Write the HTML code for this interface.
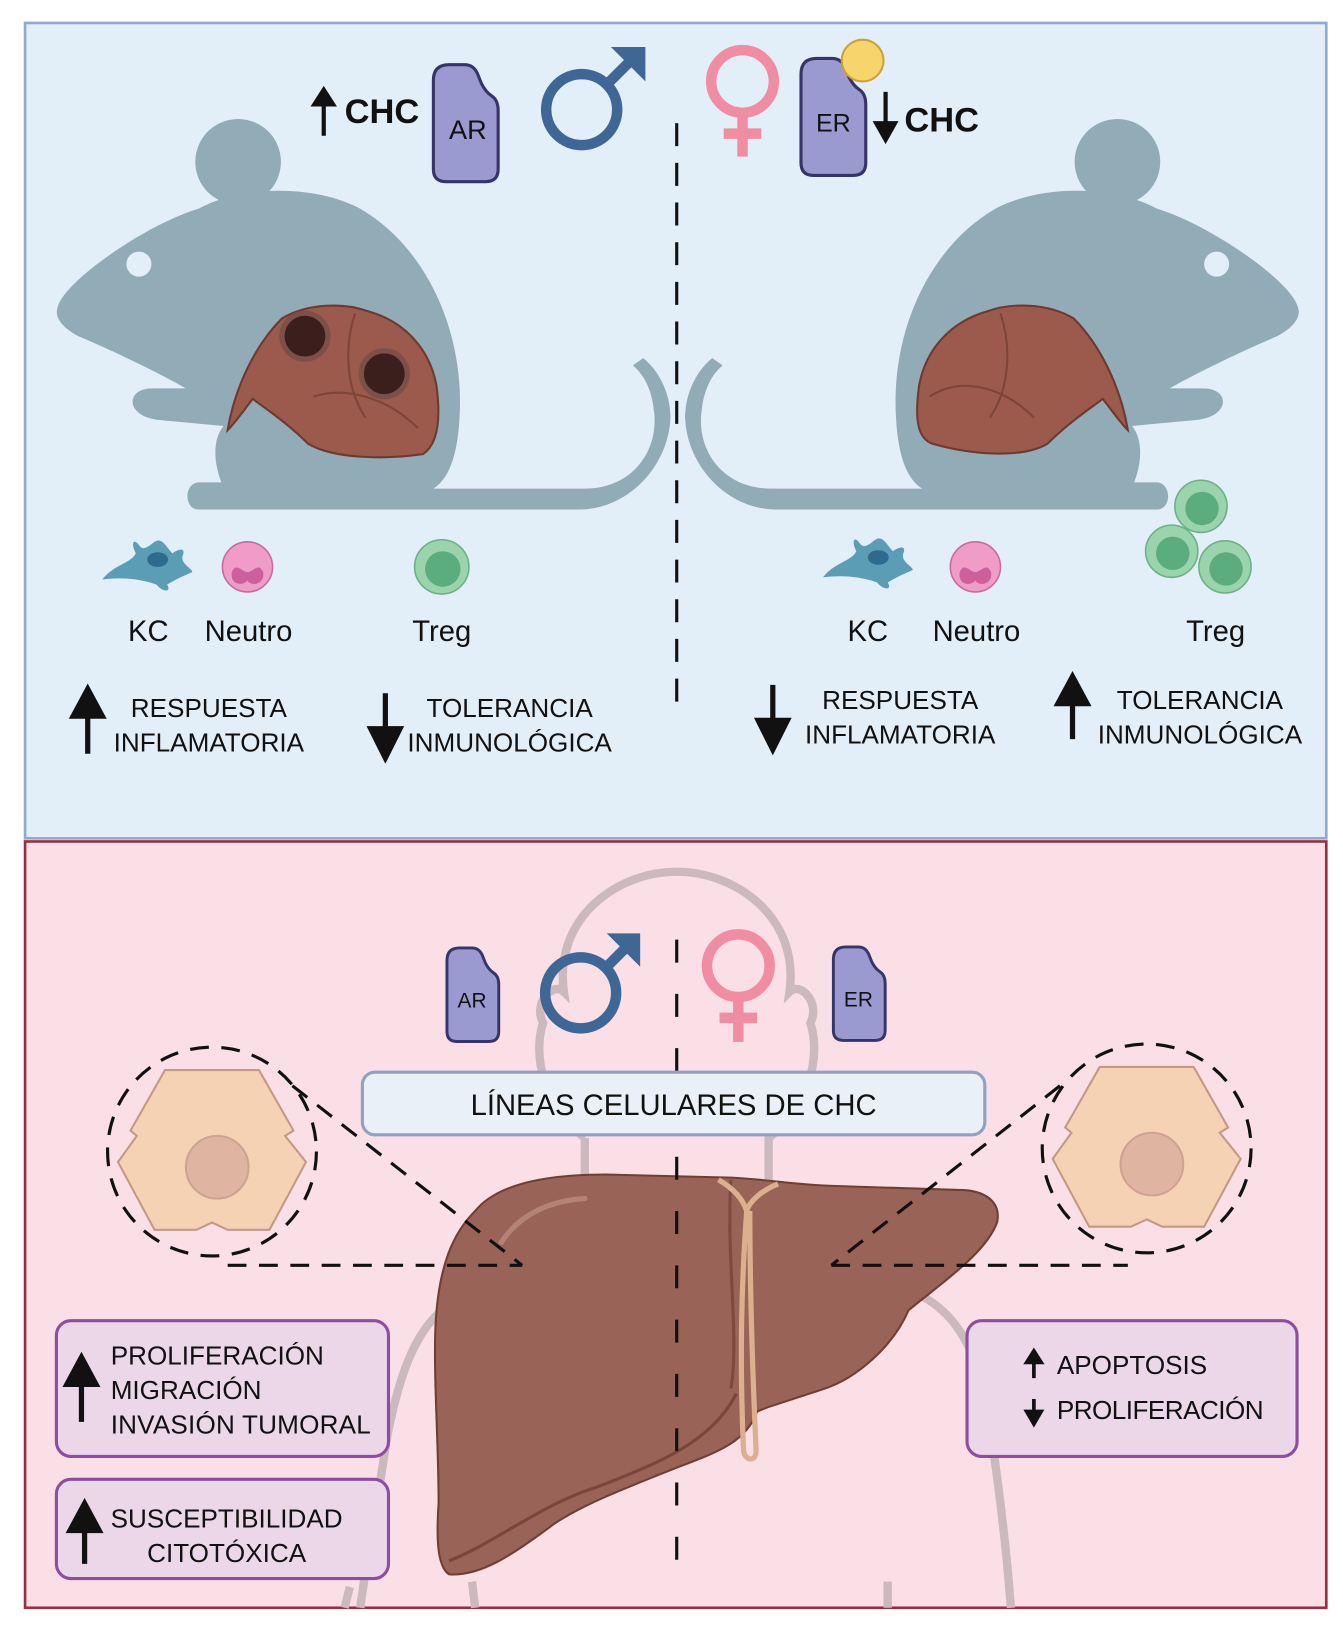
<!DOCTYPE html>
<html><head><meta charset="utf-8"><style>
html,body{margin:0;padding:0;background:#fff;}
svg{display:block;}
text{font-family:"Liberation Sans",sans-serif;fill:#111;}
</style></head><body>
<svg width="1343" height="1637" viewBox="0 0 1286 1568" preserveAspectRatio="none" xmlns="http://www.w3.org/2000/svg">
<defs>
<g id="mouse">
<circle cx="228" cy="155" r="41" fill="#91abb7"/>
<path fill="#91abb7" d="M55,295 C60,270 140,215 190,200 C230,178 300,176 345,200 C410,238 445,320 440,400 C438,440 428,460 415,468 L560,468 C605,468 632,432 626,392 C624,375 618,360 606,350 L616,343 C632,356 642,378 642,400 C640,448 600,488 555,488 L190,488 C176,488 176,463 190,462 L212,462 C204,442 204,420 214,408 L150,402 C120,398 120,372 146,372 L178,372 C150,356 108,336 75,322 C60,314 52,304 55,295 Z"/>
<circle cx="133" cy="253" r="12" fill="#e2eef8"/>
</g>
<g id="cell">
<path d="M-45,-78 L45,-78 L78,-20 L70,-15 L90,10 L55,75 L15,75 L0,68 L-15,75 L-55,75 L-90,10 L-72,-15 L-78,-20 Z" fill="#f6d2b5" stroke="#c09a86" stroke-width="2"/>
<circle cx="5" cy="15" r="30" fill="#dfb5a2" stroke="#cfa292" stroke-width="2"/>
</g>
<path id="box" d="M0,15 Q0,0 15,0 L30,0 Q38,0 42,8 L46,18 Q50,26 56,30 Q62,34 62,44 L62,100 Q62,112 50,112 L12,112 Q0,112 0,100 Z"/>
</defs>

<rect x="24" y="22" width="1246" height="781" fill="#e2eef8" stroke="#8eaad0" stroke-width="2.5"/>
<rect x="24" y="806" width="1246" height="734" fill="#fadfe6" stroke="#9d2b42" stroke-width="2.5"/>

<line x1="648" y1="118" x2="648" y2="680" stroke="#111" stroke-width="3" stroke-dasharray="22,16"/>

<use href="#mouse"/>
<use href="#mouse" transform="translate(1298,0) scale(-1,1)"/>

<path d="M218,412 C225,370 245,330 270,305 C295,290 330,290 352,298 C388,308 412,335 418,370 C422,400 420,425 405,435 C370,440 320,440 295,425 C275,405 255,392 242,382 C232,395 225,405 218,412 Z" fill="#9b5a4b" stroke="#6e3a30" stroke-width="2"/>
<path d="M340,300 C330,330 330,370 350,400" fill="none" stroke="#7d4538" stroke-width="2"/>
<path d="M300,380 C330,370 370,380 400,410" fill="none" stroke="#7d4538" stroke-width="2"/>
<circle cx="292" cy="322" r="22" fill="#3a1f1c" stroke="#7c5048" stroke-width="5"/>
<circle cx="368" cy="358" r="22" fill="#3a1f1c" stroke="#7c5048" stroke-width="5"/>
<path d="M1080,412 C1073,370 1053,330 1028,305 C1003,290 968,290 946,298 C910,308 886,335 880,370 C876,400 878,420 893,425 C928,435 978,440 1003,425 C1023,405 1043,392 1056,382 C1066,395 1073,405 1080,412 Z" fill="#9b5a4b" stroke="#6e3a30" stroke-width="2"/>
<path d="M958,300 C968,330 968,370 948,400" fill="none" stroke="#7d4538" stroke-width="2"/>
<path d="M890,380 C920,360 960,370 990,400" fill="none" stroke="#7d4538" stroke-width="2"/>

<use href="#box" x="415" y="62" fill="#9b9ad0" stroke="#36356a" stroke-width="3" />
<text x="448" y="133" font-size="26" text-anchor="middle">AR</text>
<circle cx="557" cy="105" r="34" fill="none" stroke="#3f6796" stroke-width="10"/>
<line x1="581" y1="81" x2="608" y2="54" stroke="#3f6796" stroke-width="10"/>
<path d="M585,45 L618,45 L618,78 Z" fill="#3f6796"/>
<circle cx="711" cy="78" r="30" fill="none" stroke="#f08da2" stroke-width="10"/>
<line x1="711" y1="108" x2="711" y2="150" stroke="#f08da2" stroke-width="10"/>
<line x1="693" y1="128" x2="729" y2="128" stroke="#f08da2" stroke-width="10"/>
<use href="#box" x="767" y="56" fill="#9b9ad0" stroke="#36356a" stroke-width="3"/>
<circle cx="826" cy="58" r="20" fill="#f8d56b" stroke="#c9a23e" stroke-width="2"/>
<text x="798" y="126" font-size="24" text-anchor="middle">ER</text>

<path d="M310,130 L310,98 M301,100 L310,86 L319,100 Z" stroke="#111" stroke-width="4" fill="#111"/>
<text x="330" y="118" font-size="33" font-weight="bold">CHC</text>
<path d="M848,88 L848,120 M839,118 L848,134 L857,118 Z" stroke="#111" stroke-width="4" fill="#111"/>
<text x="866" y="126" font-size="33" font-weight="bold">CHC</text>

<path d="M98,555 C110,540 125,540 130,530 C125,520 128,515 133,522 C138,530 145,520 150,518 C156,516 160,525 165,530 C172,525 178,525 175,532 C172,540 185,545 184,548 C175,552 168,555 160,560 C165,568 155,567 150,560 C140,556 120,552 98,555 Z" fill="#5a9db5"/>
<ellipse cx="151" cy="536" rx="10" ry="7" fill="#2e6a8c"/>
<circle cx="237" cy="543" r="24" fill="#f09cc8" stroke="#c86aa0" stroke-width="1.5"/>
<path d="M222,548 C226,538 232,548 237,548 C242,548 248,538 252,548 C254,560 240,562 237,556 C232,562 220,560 222,548Z" fill="#cc5f9c"/>
<circle cx="423" cy="543" r="26" fill="#9bd3ad" stroke="#6ab186" stroke-width="1.5"/>
<circle cx="424" cy="545" r="17" fill="#5bad7f"/>
<text x="142" y="614" font-size="28" text-anchor="middle">KC</text>
<text x="238" y="614" font-size="28" text-anchor="middle">Neutro</text>
<text x="423" y="614" font-size="28" text-anchor="middle">Treg</text>

<g transform="translate(690,-2)">
<path d="M98,555 C110,540 125,540 130,530 C125,520 128,515 133,522 C138,530 145,520 150,518 C156,516 160,525 165,530 C172,525 178,525 175,532 C172,540 185,545 184,548 C175,552 168,555 160,560 C165,568 155,567 150,560 C140,556 120,552 98,555 Z" fill="#5a9db5"/>
<ellipse cx="151" cy="536" rx="10" ry="7" fill="#2e6a8c"/>
</g>
<circle cx="934" cy="543" r="24" fill="#f09cc8" stroke="#c86aa0" stroke-width="1.5"/>
<path d="M919,548 C923,538 929,548 934,548 C939,548 945,538 949,548 C951,560 937,562 934,556 C929,562 917,560 919,548Z" fill="#cc5f9c"/>
<circle cx="1150" cy="485" r="25" fill="#9bd3ad" stroke="#6ab186" stroke-width="1.5"/>
<circle cx="1151" cy="487" r="16" fill="#5bad7f"/>
<circle cx="1122" cy="528" r="25" fill="#9bd3ad" stroke="#6ab186" stroke-width="1.5"/>
<circle cx="1123" cy="530" r="16" fill="#5bad7f"/>
<circle cx="1173" cy="543" r="25" fill="#9bd3ad" stroke="#6ab186" stroke-width="1.5"/>
<circle cx="1174" cy="545" r="16" fill="#5bad7f"/>
<text x="831" y="614" font-size="28" text-anchor="middle">KC</text>
<text x="935" y="614" font-size="28" text-anchor="middle">Neutro</text>
<text x="1164" y="614" font-size="28" text-anchor="middle">Treg</text>

<g stroke="#111" fill="#111">
<path d="M84,722 L84,680 M70,686 L84,660 L98,686 Z" stroke-width="5"/>
<path d="M369,664 L369,702 M355,698 L369,726 L383,698 Z" stroke-width="5"/>
<path d="M740,656 L740,694 M726,690 L740,718 L754,690 Z" stroke-width="5"/>
<path d="M1027,708 L1027,668 M1013,674 L1027,648 L1041,674 Z" stroke-width="5"/>
</g>
<g font-size="25" text-anchor="middle">
<text x="200" y="687">RESPUESTA</text><text x="200" y="720">INFLAMATORIA</text>
<text x="488" y="687">TOLERANCIA</text><text x="488" y="720">INMUNOLÓGICA</text>
<text x="862" y="679">RESPUESTA</text><text x="862" y="712">INFLAMATORIA</text>
<text x="1149" y="679">TOLERANCIA</text><text x="1149" y="712">INMUNOLÓGICA</text>
</g>

<g fill="none" stroke="#cbb9be" stroke-width="8">
<path d="M560,1090 C520,1060 510,1010 520,980 C510,960 530,940 540,950 C530,880 590,835 648,835 C706,835 766,880 756,950 C766,940 786,960 776,980 C786,1010 776,1060 736,1090 L736,1140"/>
<path d="M560,1090 L560,1140"/>
<path d="M445,1240 C405,1260 385,1300 370,1380 C360,1450 350,1500 345,1540"/>
<path d="M880,1240 C920,1260 940,1300 950,1380 C960,1450 965,1500 968,1540"/>
<path d="M330,1540 L335,1520 M455,1540 L452,1515 M850,1540 L850,1515"/>
</g>

<path d="M455,1160 C475,1135 520,1125 580,1125 L700,1128 C740,1130 760,1135 800,1136 L925,1140 C945,1142 958,1152 955,1170 C945,1200 900,1230 870,1255 C855,1290 820,1320 790,1330 L735,1348 L725,1352 C715,1380 690,1390 650,1405 C600,1425 560,1440 530,1460 C490,1490 460,1510 430,1508 C418,1500 418,1470 420,1440 C420,1380 415,1320 417,1270 C420,1210 435,1180 455,1160 Z" fill="#9a6357" stroke="#6f3e34" stroke-width="2"/>
<path d="M430,1495 C470,1480 520,1440 570,1425 C620,1405 680,1385 705,1335" fill="none" stroke="#7a463c" stroke-width="3"/>
<path d="M700,1130 C695,1200 708,1280 700,1330" fill="none" stroke="#7e4a40" stroke-width="3"/>
<path d="M688,1130 C705,1140 712,1150 715,1160 C718,1150 730,1140 745,1134 M715,1160 C710,1230 708,1300 712,1390 C714,1400 724,1400 724,1390 C720,1300 718,1230 718,1160" fill="none" stroke="#dcb08e" stroke-width="5"/>
<path d="M480,1190 C500,1160 530,1150 560,1148" fill="none" stroke="#b58276" stroke-width="5" stroke-linecap="round"/>

<line x1="648" y1="900" x2="648" y2="1510" stroke="#111" stroke-width="3" stroke-dasharray="22,30"/>

<g transform="translate(428,908) scale(0.8)"><use href="#box" fill="#9b9ad0" stroke="#36356a" stroke-width="3.5"/></g>
<text x="452" y="965" font-size="20" text-anchor="middle">AR</text>
<g transform="translate(798,907) scale(0.8)"><use href="#box" fill="#9b9ad0" stroke="#36356a" stroke-width="3.5"/></g>
<text x="822" y="964" font-size="20" text-anchor="middle">ER</text>
<circle cx="556" cy="951" r="34" fill="none" stroke="#3f6796" stroke-width="10"/>
<line x1="580" y1="927" x2="604" y2="903" stroke="#3f6796" stroke-width="10"/>
<path d="M581,894 L613,894 L613,926 Z" fill="#3f6796"/>
<circle cx="707" cy="925" r="30" fill="none" stroke="#f08da2" stroke-width="10"/>
<line x1="707" y1="955" x2="707" y2="998" stroke="#f08da2" stroke-width="10"/>
<line x1="689" y1="975" x2="725" y2="975" stroke="#f08da2" stroke-width="10"/>

<g fill="none" stroke="#111" stroke-width="3" stroke-dasharray="18,12">
<circle cx="203" cy="1103" r="100"/>
<circle cx="1098" cy="1100" r="100"/>
<line x1="280" y1="1040" x2="500" y2="1212"/>
<line x1="218" y1="1212" x2="500" y2="1212"/>
<line x1="1015" y1="1040" x2="796" y2="1212"/>
<line x1="796" y1="1212" x2="1080" y2="1212"/>
</g>
<use href="#cell" transform="translate(203,1103)"/>
<use href="#cell" transform="translate(1098,1100)"/>

<rect x="347" y="1027" width="596" height="60" rx="12" fill="#e9f0f8" stroke="#8fa2c4" stroke-width="3"/>
<text x="645" y="1068" font-size="28" text-anchor="middle">LÍNEAS CELULARES DE CHC</text>

<g fill="#ecd7e8" stroke="#8c4ea2" stroke-width="3">
<rect x="54" y="1265" width="318" height="130" rx="14"/>
<rect x="54" y="1417" width="318" height="95" rx="14"/>
<rect x="926" y="1265" width="316" height="130" rx="14"/>
</g>
<g stroke="#111" fill="#111">
<path d="M78,1362 L78,1320 M64,1326 L78,1300 L92,1326 Z" stroke-width="5"/>
<path d="M81,1498 L81,1462 M67,1466 L81,1440 L95,1466 Z" stroke-width="5"/>
<path d="M990,1320 L990,1302 M983,1305 L990,1294 L997,1305 Z" stroke-width="3.5"/>
<path d="M990,1340 L990,1356 M983,1352 L990,1364 L997,1352 Z" stroke-width="3.5"/>
</g>
<g font-size="25">
<text x="106" y="1307">PROLIFERACIÓN</text>
<text x="106" y="1340">MIGRACIÓN</text>
<text x="106" y="1373" textLength="249">INVASIÓN TUMORAL</text>
<text x="217" y="1463" text-anchor="middle">SUSCEPTIBILIDAD</text>
<text x="217" y="1496" text-anchor="middle">CITOTÓXICA</text>
<text x="1012" y="1316">APOPTOSIS</text>
<text x="1012" y="1359" textLength="198">PROLIFERACIÓN</text>
</g>
</svg>
</body></html>
